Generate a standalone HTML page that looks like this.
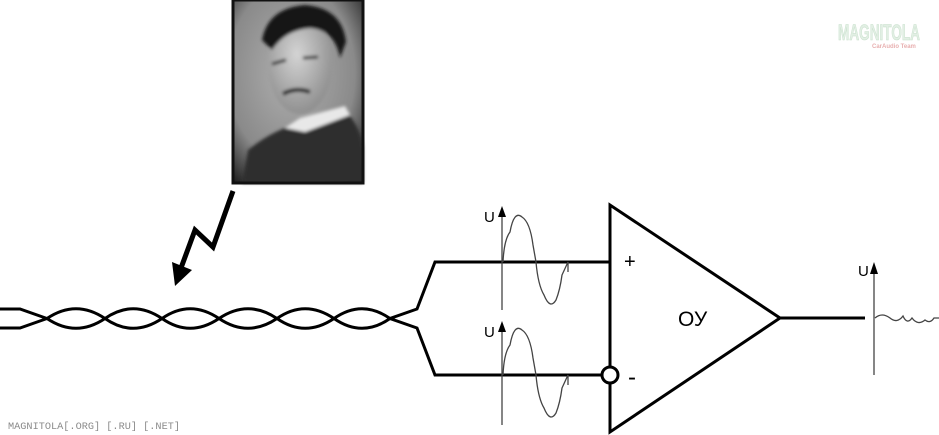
<!DOCTYPE html>
<html><head><meta charset="utf-8"><style>
html,body{margin:0;padding:0;background:#fff;width:939px;height:435px;overflow:hidden}
svg{display:block}
</style></head><body>
<svg width="939" height="435" viewBox="0 0 939 435" xmlns="http://www.w3.org/2000/svg">
<defs>
<radialGradient id="bg" cx="0.45" cy="0.4" r="0.75">
<stop offset="0" stop-color="#b0b0b0"/><stop offset="0.65" stop-color="#8a8a8a"/><stop offset="1" stop-color="#1a1a1a"/>
</radialGradient>
<radialGradient id="face" cx="0.45" cy="0.4" r="0.65">
<stop offset="0" stop-color="#d4d4d4"/><stop offset="1" stop-color="#8a8a8a"/>
</radialGradient>
<filter id="bl"><feGaussianBlur stdDeviation="1.5"/></filter>
</defs>
<!-- photo -->
<rect x="233" y="0" width="130" height="183" fill="url(#bg)"/>
<g filter="url(#bl)">
<path d="M242 183 L248 150 Q275 128 305 122 L345 110 Q362 128 363 150 L363 183 Z" fill="#2e2e2e"/>
<path d="M285 128 L300 118 L345 106 L350 115 L305 132 Z" fill="#e8e8e8"/>
<ellipse cx="300" cy="64" rx="32" ry="50" fill="url(#face)"/>
<path d="M262 40 Q268 8 305 5 Q342 8 346 42 L340 58 Q335 30 310 28 Q285 30 272 50 Z" fill="#181818"/>
<path d="M272 64 L286 60 M303 58 L318 57" stroke="#333" stroke-width="3"/>
<path d="M283 94 Q295 87 310 92" stroke="#222" stroke-width="4" fill="none"/>
</g>
<rect x="233" y="0" width="130" height="183" fill="none" stroke="#111" stroke-width="3"/>
<!-- lightning -->
<polyline points="233,191 213,247 195,230 181,268" fill="none" stroke="#000" stroke-width="5"/>
<polygon points="175,286 172,262 192,270" fill="#000"/>
<!-- twisted pair -->
<g fill="none" stroke="#000" stroke-width="3">
<path d="M0 309 L20 309 L47 318.5 Q76 299 105 318.5 Q133 338 162 318.5 Q190 299 219 318.5 Q248 338 277 318.5 Q305 299 334 318.5 Q362 338 390 318.5 L417 309 L435 262 L610 262"/>
<path d="M0 328 L20 328 L47 318.5 Q76 338 105 318.5 Q133 299 162 318.5 Q190 338 219 318.5 Q248 299 277 318.5 Q305 338 334 318.5 Q362 299 390 318.5 L417 328 L435 375 L602 375"/>
<polygon points="610,205 610,432 780,318" stroke-width="3"/>
<line x1="780" y1="318" x2="865" y2="318"/>
<circle cx="610" cy="375" r="8" fill="#fff"/>
</g>
<!-- axes -->
<g stroke="#444" stroke-width="1.3" fill="none">
<line x1="502" y1="214" x2="502" y2="310"/>
<line x1="502" y1="329" x2="502" y2="425"/>
<line x1="874" y1="266" x2="874" y2="375"/>
<path d="M503 262 Q504 240 510 232 Q514 210 522 217 Q530 222 533 245 L536 262 Q538 285 544 295 Q550 310 556 300 Q560 290 562 275 L568 262 L568 272"/>
<path d="M503 375 Q504 353 510 345 Q514 323 522 330 Q530 335 533 358 L536 375 Q538 398 544 408 Q550 423 556 413 Q560 403 562 388 L568 375 L568 385"/>
<path d="M875 318 Q882 312 890 318 Q897 324 903 316 Q907 325 912 318 Q918 326 925 320 Q930 324 934 318 L939 318"/>
</g>
<g fill="#000">
<polygon points="502,206 498,217 506,217"/>
<polygon points="502,321 498,332 506,332"/>
<polygon points="874,262 870,274 878,274"/>
</g>
<g font-family="'Liberation Sans',sans-serif" fill="#000">
<text x="484" y="222" font-size="15">U</text>
<text x="484" y="337" font-size="15">U</text>
<text x="858" y="276" font-size="15">U</text>
<text x="624" y="268" font-size="20">+</text>
<text x="628" y="385" font-size="24">-</text>
<text x="678" y="326" font-size="21">ОУ</text>
</g>
<text x="8" y="429" font-family="'Liberation Mono',monospace" font-size="10" fill="#8a8a8a" textLength="172" lengthAdjust="spacingAndGlyphs">MAGNITOLA[.ORG] [.RU] [.NET]</text>
<text x="838" y="40" font-family="'Liberation Sans',sans-serif" font-size="22" font-weight="bold" fill="#e2efe4" stroke="#c8e0cc" stroke-width="0.6" textLength="82" lengthAdjust="spacingAndGlyphs">MAGNITOLA</text>
<text x="872" y="48" font-family="'Liberation Sans',sans-serif" font-size="6" font-weight="bold" fill="#e8b0b0">CarAudio Team</text>
</svg>
</body></html>
